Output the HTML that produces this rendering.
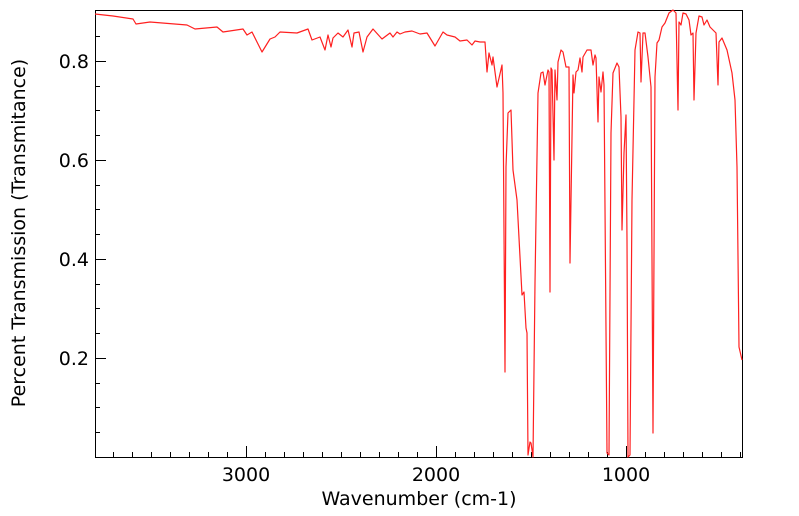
<!DOCTYPE html>
<html><head><meta charset="utf-8"><style>
html,body{margin:0;padding:0;background:#fff;}
svg{display:block;font-family:"DejaVu Sans","Liberation Sans",sans-serif;}
</style></head><body>
<svg width="799" height="516" viewBox="0 0 799 516" xmlns="http://www.w3.org/2000/svg">
<rect x="95.5" y="10.5" width="647" height="447" fill="none" stroke="#000" stroke-width="1"/>
<g stroke="#000" stroke-width="1">
<path d="M246.5 457v-11M436.5 457v-11M626.5 457v-11"/>
<path d="M113.5 457v-5M132.5 457v-5M151.5 457v-5M170.5 457v-5M189.5 457v-5M208.5 457v-5M227.5 457v-5M265.5 457v-5M284.5 457v-5M303.5 457v-5M322.5 457v-5M341.5 457v-5M360.5 457v-5M379.5 457v-5M398.5 457v-5M417.5 457v-5M455.5 457v-5M474.5 457v-5M493.5 457v-5M512.5 457v-5M531.5 457v-5M550.5 457v-5M569.5 457v-5M588.5 457v-5M607.5 457v-5M645.5 457v-5M664.5 457v-5M683.5 457v-5M702.5 457v-5M721.5 457v-5M740.5 457v-5"/>
<path d="M95 61.5h11M95 160.5h11M95 259.5h11M95 358.5h11"/>
<path d="M95 36.5h5M95 86.5h5M95 110.5h5M95 135.5h5M95 185.5h5M95 209.5h5M95 234.5h5M95 284.5h5M95 308.5h5M95 333.5h5M95 383.5h5M95 407.5h5M95 432.5h5"/>
</g>
<g font-size="19" fill="#000">
<text x="246" y="481" text-anchor="middle">3000</text>
<text x="436" y="481" text-anchor="middle">2000</text>
<text x="626" y="481" text-anchor="middle">1000</text>
<text x="89" y="68" text-anchor="end">0.8</text>
<text x="89" y="167" text-anchor="end">0.6</text>
<text x="89" y="266" text-anchor="end">0.4</text>
<text x="89" y="365" text-anchor="end">0.2</text>
<text x="419" y="505" text-anchor="middle">Wavenumber (cm-1)</text>
<text transform="translate(25,233) rotate(-90)" text-anchor="middle">Percent Transmission (Transmitance)</text>
</g>
<polyline fill="none" stroke="#ff2020" stroke-width="1.2" stroke-linejoin="round" points="
95,14 113,16 133,19 136,24 150,22 187,25 195,29 217,27 223,32 243,29 247,35 252,32 257,42 262,52 270,39 275,37 280,32 297,33 308,29 312,40 320,37 325,50 328,35 331,47 333,38 338,33 343,37 348,30 352,47 354,33 359,32 363,52 367,37 373,29 382,39 390,33 393,37 397,32 400,34 405,32 412,31 420,34 427,33 435,46 443,32 447,35 455,37 460,41 467,40 472,45 475,41 480,42 485,42
487,72 489,53 492,65 493,57 497,87 502,65 503,93 505,372 506,167 508,113 511,110 513,170 517,200 522,295 524,292 526,328 527,333 528,455 530,442 531,443 533,457 535,283 538,93 541,73 543,72 545,85 548,70 549,72 550,292 551,68 552,70 554,160 555,70 557,100 558,62 561,50 563,52 566,67 569,67 570,263 573,75 574,93 576,72 578,70 580,58 582,72 583,57 587,50 591,50 593,65 595,55 596,58 598,122 599,77 601,92 603,72 604,85 607,453 609,455 611,133 613,73 617,63 619,67 621,117 622,230 624,153 626,115 627,240 628,457 630,455 632,200 635,50 638,32 640,33 641,82 643,33 645,33 648,57 651,87 653,433 655,77 657,43 659,40 662,27 665,23 669,13 673,10 676,13 678,110 679,22 681,25 683,13 686,14 689,20 691,35 693,33 694,100 696,33 699,16 702,17 704,25 707,20 710,27 716,33 718,85 719,42 722,38 727,50 732,73 735,100 737,167 739,347 742,360"/>
</svg>
</body></html>
